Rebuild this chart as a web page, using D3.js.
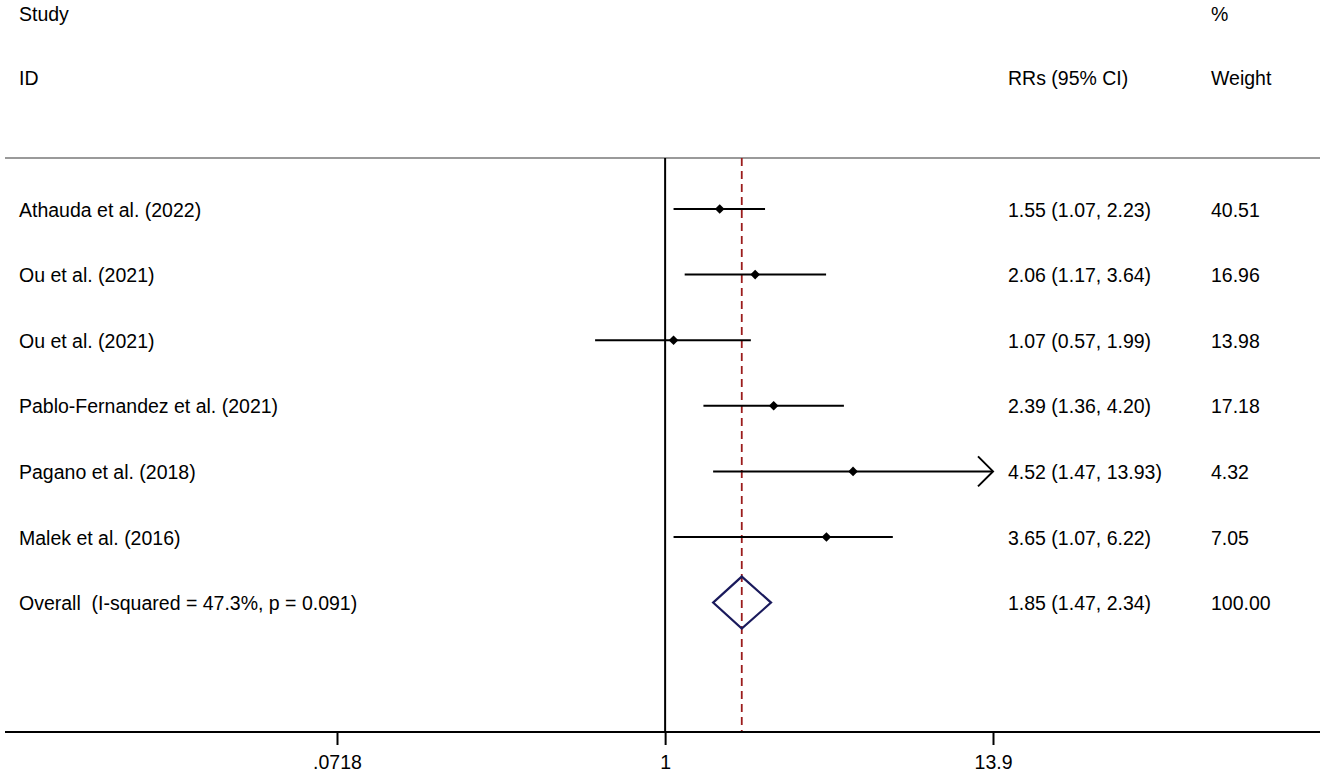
<!DOCTYPE html>
<html>
<head>
<meta charset="utf-8">
<script src="https://cdn.jsdelivr.net/npm/d3@7"></script>
<style>
  html, body { margin: 0; padding: 0; background: #fff; }
  svg text { font-family: "Liberation Sans", Arial, sans-serif; font-size: 19.5px; fill: #000; white-space: pre; }
</style>
</head>
<body>
<svg id="chart" width="1325" height="773"></svg>
<script>
const studies = ["Athauda et al. (2022)", "Ou et al. (2021)", "Ou et al. (2021)",
  "Pablo-Fernandez et al. (2021)", "Pagano et al. (2018)", "Malek et al. (2016)"];
const rr = [1.55, 2.06, 1.07, 2.39, 4.52, 3.65];
const lower = [1.07, 1.17, 0.57, 1.36, 1.47, 1.07];
const upper = [2.23, 3.64, 1.99, 4.20, 13.93, 6.22];
const weights = ["40.51", "16.96", "13.98", "17.18", "4.32", "7.05"];
const overallLabel = "Overall  (I-squared = 47.3%, p = 0.091)";
const overall = { rr: 1.85, lo: 1.47, hi: 2.34, weight: "100.00" };
const tickValues = [0.0718, 1, 13.9];
const tickLabels = [".0718", "1", "13.9"];

const svg = d3.select("#chart");
const x = d3.scaleLog().domain([0.0718, 13.9]).range([337, 993]);
const y = d3.scaleLinear().domain([0, 6]).range([209, 602.6]);
const axisY = 732, topY = 158;
const colStudy = 19, colEst = 1008, colW = 1211;

// headers
svg.append("text").attr("x", colStudy).attr("y", 21).text("Study");
svg.append("text").attr("x", colStudy).attr("y", 85).text("ID");
svg.append("text").attr("x", colW).attr("y", 21).text("%");
svg.append("text").attr("x", colEst).attr("y", 85).text("RRs (95% CI)");
svg.append("text").attr("x", colW).attr("y", 85).text("Weight");

// header rule
svg.append("line").attr("x1", 5).attr("x2", 1320).attr("y1", topY).attr("y2", topY)
  .attr("stroke", "#9a9a9a").attr("stroke-width", 2);

// null line
svg.append("line").attr("x1", x(1)).attr("x2", x(1)).attr("y1", topY).attr("y2", axisY)
  .attr("stroke", "#000").attr("stroke-width", 2);

// overall dashed line
svg.append("line").attr("x1", x(overall.rr)).attr("x2", x(overall.rr)).attr("y1", topY).attr("y2", axisY)
  .attr("stroke", "#9b1c1c").attr("stroke-width", 1.8).attr("stroke-dasharray", "8,5");

// axis
const axis = d3.axisBottom(x).tickValues(tickValues).tickFormat((d, i) => tickLabels[i])
  .tickSize(13).tickSizeOuter(0).tickPadding(10);
const gAxis = svg.append("g").attr("transform", `translate(0,${axisY})`).call(axis);
gAxis.select(".domain").remove();
gAxis.selectAll(".tick line").attr("stroke", "#000").attr("stroke-width", 2);
gAxis.selectAll(".tick text").style("font-size", "19.5px").style("font-family", "'Liberation Sans', Arial, sans-serif").attr("fill", "#000");
svg.append("line").attr("x1", 5).attr("x2", 1320).attr("y1", axisY).attr("y2", axisY)
  .attr("stroke", "#000").attr("stroke-width", 2);

const xMax = x.domain()[1];
const rows = studies.map((s, i) => ({ s, rr: rr[i], lo: lower[i], hi: upper[i], w: weights[i], i }));

// CI lines
rows.forEach(d => {
  const cy = y(d.i);
  const hiClip = Math.min(d.hi, xMax);
  svg.append("line").attr("x1", x(d.lo)).attr("x2", x(hiClip)).attr("y1", cy).attr("y2", cy)
    .attr("stroke", "#000").attr("stroke-width", 2);
  if (d.hi > xMax) {
    const ax = x(xMax);
    svg.append("path").attr("d", `M${ax - 15},${cy - 15}L${ax},${cy}L${ax - 15},${cy + 15}`)
      .attr("fill", "none").attr("stroke", "#000").attr("stroke-width", 2);
  }
  const px = x(d.rr), r = 4.8;
  svg.append("path").attr("d", `M${px},${cy - r}L${px + r},${cy}L${px},${cy + r}L${px - r},${cy}Z`)
    .attr("fill", "#000");
  svg.append("text").attr("x", colStudy).attr("y", cy + 7.5).text(d.s);
  svg.append("text").attr("x", colEst).attr("y", cy + 7.5)
    .text(`${d.rr.toFixed(2)} (${d.lo.toFixed(2)}, ${d.hi.toFixed(2)})`);
  svg.append("text").attr("x", colW).attr("y", cy + 7.5).text(d.w);
});

// overall diamond
const oy = y(6), dh = 26;
svg.append("path")
  .attr("d", `M${x(overall.lo)},${oy}L${x(overall.rr)},${oy - dh}L${x(overall.hi)},${oy}L${x(overall.rr)},${oy + dh}Z`)
  .attr("fill", "none").attr("stroke", "#1a1a5c").attr("stroke-width", 2.2);
svg.append("text").attr("x", colStudy).attr("y", oy + 7.5).text(overallLabel);
svg.append("text").attr("x", colEst).attr("y", oy + 7.5)
  .text(`${overall.rr.toFixed(2)} (${overall.lo.toFixed(2)}, ${overall.hi.toFixed(2)})`);
svg.append("text").attr("x", colW).attr("y", oy + 7.5).text(overall.weight);
</script>
</body>
</html>
